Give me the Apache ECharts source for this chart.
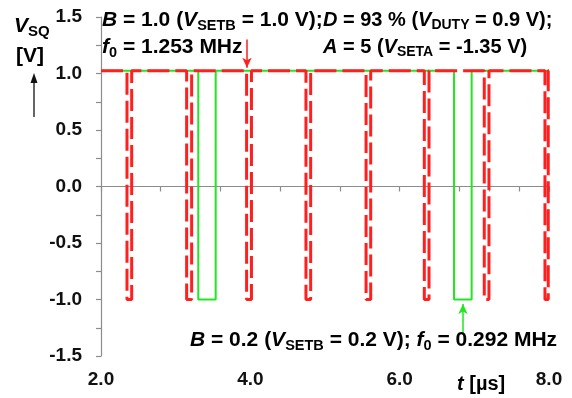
<!DOCTYPE html>
<html>
<head>
<meta charset="utf-8">
<script src="https://cdn.jsdelivr.net/npm/echarts@6/dist/echarts.min.js"></script>
<style>
  html, body { margin: 0; padding: 0; background: #ffffff; }
  #chart { width: 572px; height: 398px; }
</style>
</head>
<body>
<div id="chart"></div>
<script>
// Square-wave output V_SQ for two settings of B (times in µs, levels in V)
const highLevel = 1.025;
const lowLevel = -1.0;

// B = 1.0 (f0 = 1.253 MHz): falling / rising edge times of each low pulse
const redFall = [2.348, 3.147, 3.950, 4.745, 5.550, 6.330, 7.133, 7.946];
const redRise = [2.411, 3.214, 4.015, 4.808, 5.612, 6.393, 7.196, 7.990];

// B = 0.2 (f0 = 0.292 MHz): falling / rising edge times
const greenFall = [3.303, 6.728];
const greenRise = [3.536, 6.964];

const tStart = 2.0;
const tEnd = 8.0;

const xTicks = [2.0, 4.0, 6.0, 8.0];
const yTicks = [-1.5, -1.0, -0.5, 0.0, 0.5, 1.0, 1.5];

// turn edge lists into a step polyline
function pulseTrain(fall, rise) {
  const pts = [[tStart, highLevel]];
  for (let i = 0; i < fall.length; i++) {
    pts.push([fall[i], highLevel], [fall[i], lowLevel], [rise[i], lowLevel], [rise[i], highLevel]);
  }
  pts.push([tEnd, highLevel]);
  return pts;
}

const RED = '#ff1f1f';
const GREEN = '#22e622';
const FONT = 'Liberation Sans, Arial, sans-serif';

const chart = echarts.init(document.getElementById('chart'), null, { renderer: 'canvas' });

function near(v, list) {
  return list.some(t => Math.abs(t - v) < 1e-6);
}

// rich-text styles shared by the annotations
function richStyles(color, size, sub) {
  return {
    n: { fontFamily: FONT, fontWeight: 'bold', fontSize: size, color: color },
    i: { fontFamily: FONT, fontWeight: 'bold', fontStyle: 'italic', fontSize: size, color: color },
    s: { fontFamily: FONT, fontWeight: 'bold', fontSize: sub, color: color, padding: [11, 0, 0, 0] }
  };
}

function label(x, y, text, color, size, sub) {
  return {
    type: 'text',
    x: x,
    y: y,
    style: {
      text: text,
      rich: richStyles(color, size, sub),
      align: 'left',
      verticalAlign: 'middle'
    },
    z: 10
  };
}

const option = {
  backgroundColor: '#ffffff',
  animation: false,
  grid: { left: 101, right: 23, top: 17, bottom: 42, containLabel: false },
  xAxis: {
    type: 'value',
    min: 2.0,
    max: 8.0,
    interval: 0.4,
    axisLine: { show: true, lineStyle: { color: '#8c8c8c', width: 1.2 } },
    axisTick: { show: true, inside: false, length: 5, lineStyle: { color: '#8c8c8c', width: 1.2 } },
    splitLine: { show: false },
    axisLabel: {
      margin: 14,
      fontFamily: FONT, fontWeight: 'bold', fontSize: 19, color: '#111',
      showMinLabel: true, showMaxLabel: true,
      formatter: v => near(v, xTicks) ? v.toFixed(1) : ''
    }
  },
  yAxis: {
    type: 'value',
    min: -1.5,
    max: 1.5,
    interval: 0.25,
    axisLine: { show: true, lineStyle: { color: '#8c8c8c', width: 1.2 } },
    axisTick: { show: true, inside: false, length: 5, lineStyle: { color: '#8c8c8c', width: 1.2 } },
    splitLine: { show: false },
    axisLabel: {
      margin: 19,
      fontFamily: FONT, fontWeight: 'bold', fontSize: 19, color: '#111',
      showMinLabel: true, showMaxLabel: true,
      formatter: v => near(v, yTicks) ? v.toFixed(1) : ''
    }
  },
  series: [
    {
      name: 'B = 0.2',
      type: 'line',
      data: pulseTrain(greenFall, greenRise),
      showSymbol: false,
      lineStyle: { color: GREEN, width: 2 },
      z: 2,
      markLine: {
        silent: true,
        symbol: ['none', 'arrow'],
        symbolSize: [7, 10],
        label: { show: false },
        lineStyle: { color: GREEN, width: 1.5, type: 'solid' },
        data: [[{ coord: [6.848, -1.31] }, { coord: [6.848, -1.04] }]]
      }
    },
    {
      name: 'B = 1.0',
      type: 'line',
      data: pulseTrain(redFall, redRise),
      showSymbol: false,
      lineStyle: { color: RED, width: 3, type: [22, 6] },
      z: 3,
      markLine: {
        silent: true,
        symbol: ['none', 'arrow'],
        symbolSize: [7, 10],
        label: { show: false },
        lineStyle: { color: RED, width: 1.5, type: 'solid' },
        data: [[{ coord: [3.955, 1.30] }, { coord: [3.955, 1.05] }]]
      }
    }
  ],
  graphic: [
    // y-axis title with upward arrow
    label(14, 26, '{i|V}{s|SQ}', '#111', 21, 15),
    label(16, 56, '{n|[V]}', '#111', 21, 15),
    {
      type: 'line',
      shape: { x1: 34, y1: 117, x2: 34, y2: 80 },
      style: { stroke: '#111', lineWidth: 1.3 }
    },
    {
      type: 'polygon',
      shape: { points: [[34, 73], [30.5, 83], [37.5, 83]] },
      style: { fill: '#111' }
    },
    // settings for B = 1.0
    label(102, 20, '{i|B}{n| = 1.0 (}{i|V}{s|SETB}{n| = 1.0 V);}', RED, 21, 14.5),
    label(102, 47, '{i|f}{s|0}{n| = 1.253 MHz}', RED, 21, 14.5),
    // common settings
    label(323, 20, '{i|D}{n| = 93 % (}{i|V}{s|DUTY}{n| = 0.9 V);}', '#111', 20, 14),
    label(323, 47, '{i|A}{n| = 5 (}{i|V}{s|SETA}{n| = -1.35 V)}', '#111', 20, 14),
    // settings for B = 0.2
    label(190, 340, '{i|B}{n| = 0.2 (}{i|V}{s|SETB}{n| = 0.2 V); }{i|f}{s|0}{n| = 0.292 MHz}', GREEN, 21, 14.5),
    // x-axis title
    label(457, 384, '{i|t}{n| [µs]}', '#111', 20, 14)
  ]
};

chart.setOption(option);
</script>
</body>
</html>
